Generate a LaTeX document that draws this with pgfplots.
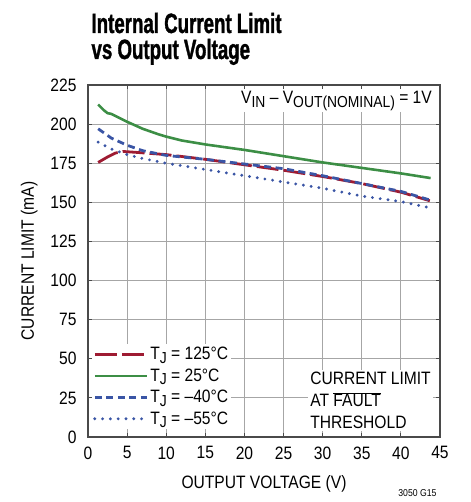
\documentclass[border=0pt]{standalone}
\usepackage{fontspec}
\setmainfont{Liberation Sans}[FakeStretch=0.87]
\newfontfamily\titlefont{Liberation Sans}[FakeStretch=0.67, BoldFeatures={FakeBold=1.2}]
\usepackage{pgfplots}
\pgfplotsset{compat=1.18}
\usetikzlibrary{calc}
\definecolor{tjhot}{HTML}{9E1B32}
\definecolor{tjroom}{HTML}{3C8E45}
\definecolor{tjcold}{HTML}{3A55A5}
\definecolor{frame}{HTML}{4A4A4A}
\newcommand\lbl{\fontsize{18}{22}\selectfont}
\newcommand\sub[1]{\raisebox{-0.2em}{\fontsize{16}{16}\selectfont #1}}

\pgfplotstableread{
x y
1.3 175.5
2.5 179
3.5 181.5
4.5 182.5
6 182
10 180.5
15 177.5
20 174
25 170.5
30 166.5
35 162
40 156.5
43.7 151
}\hot
\pgfplotstableread{
x y
1.3 212.5
2 209
2.5 207
3 206.5
4 204
5 201.5
7 197
9 193.5
10 192
12 189.5
15 187
20 183.5
25 179.5
30 175.5
35 172
40 168.5
43.8 165.5
}\room
\pgfplotstableread{
x y
1.3 197
3 191
5 186.5
7 183
10 180
15 177.5
20 174.5
25 171.5
30 167
35 162
40 157
43.7 151.5
}\cold
\pgfplotstableread{
x y
1.3 188.5
3 184
5 180.5
7 178
10 175
15 171
20 167
25 163
30 159
35 154
40 150.5
43.7 146.5
}\colder

\begin{document}
\begin{tikzpicture}
\begin{axis}[
  name=ax,
  scale only axis,
  width=352bp, height=352bp,
  xmin=0, xmax=45, ymin=0, ymax=225,
  xtick={0,5,...,45}, ytick={0,25,...,225},
  grid=major,
  major grid style={draw=gray!70, line width=0.8pt},
  axis line style={draw=frame, line width=1.4pt},
  tick align=inside, major tick length=4bp,
  tick style={draw=frame, line width=0.9pt},
  tick label style={font=\lbl},
  xticklabel style={yshift=-6bp},
  yticklabel style={xshift=-8bp},
  /pgf/number format/assume math mode=true,
  xlabel={OUTPUT VOLTAGE (V)},
  ylabel={CURRENT LIMIT (mA)},
  label style={font=\lbl},
  xlabel style={yshift=-9bp},
  ylabel style={yshift=6bp},
  legend cell align=left,
  legend style={at={(0,0)}, anchor=south west, xshift=4bp, yshift=8bp,
    draw=none, fill=white, inner sep=1bp, row sep=3.5bp,
    font=\lbl},
  legend image code/.code={\draw[#1] (0bp,0bp) -- (52bp,0bp);},
]
\addplot[tjhot, line width=2.8pt, dash pattern=on 22bp off 5bp] table {\hot};
\addplot[tjroom, line width=2.6pt] table {\room};
\addplot[tjcold, line width=2.8pt, dash pattern=on 7bp off 4.5bp] table {\cold};
\addplot[tjcold, line width=3.2pt, dash pattern=on 0pt off 7.8bp, line cap=round] table {\colder};
\legend{T\sub{J} = 125°C, T\sub{J} = 25°C, T\sub{J} = –40°C, T\sub{J} = –55°C}
\end{axis}
\node[anchor=north east, fill=white, inner sep=2bp, font=\lbl]
  at ($(ax.north east)+(-6bp,-4bp)$) {V\sub{IN} – V\sub{OUT(NOMINAL)} = 1V};
\node[anchor=south east, fill=white, inner sep=2bp, align=left, font=\lbl]
  at ($(ax.south east)+(-7bp,6bp)$) {CURRENT LIMIT\\AT $\overline{\mbox{FAULT}}$\\THRESHOLD};
\node[anchor=base west, font=\titlefont\bfseries\fontsize{28}{29}\selectfont]
  at ($(ax.north west)+(0bp,52bp)$) {Internal Current Limit};
\node[anchor=base west, font=\titlefont\bfseries\fontsize{28}{29}\selectfont]
  at ($(ax.north west)+(0bp,26bp)$) {vs Output Voltage};
\node[anchor=south east, font=\fontsize{10}{11}\selectfont] at ($(ax.south east)+(0bp,-63bp)$) {3050 G15};
\pgfresetboundingbox
\path[use as bounding box] ($(ax.south west)+(-88bp,-65bp)$) rectangle ($(ax.north east)+(31bp,85bp)$);
\end{tikzpicture}
\end{document}
